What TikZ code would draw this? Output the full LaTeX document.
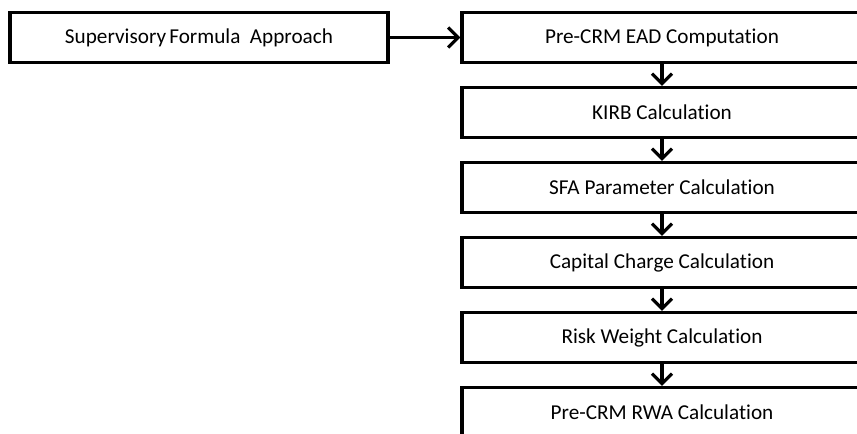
\documentclass[tikz,border=0pt]{standalone}
\usepackage{fontspec}
\setmainfont[Ligatures={NoCommon}]{Carlito}
\usetikzlibrary{arrows.meta}
\begin{document}
\begin{tikzpicture}[x=0.75pt,y=-0.75pt,
  box/.style={draw=black,line width=2.4pt,fill=white,minimum width=400*0.75pt,minimum height=50*0.75pt,inner sep=0pt,font=\fontsize{15.9}{19}\selectfont,text=black},
  flow/.style={line width=2.4pt,-{Straight Barb[length=7.5pt,width=15pt,line width=2.4pt]}}]
\useasboundingbox (0,0) rectangle (857,434);
\node[box,minimum width=378*0.75pt] (sfa) at (199,37.5) {Supervisory\hspace{0.15em}Formula\hspace{0.45em}Approach};
\node[box] (b1) at (662,37.5) {Pre-CRM EAD Computation};
\node[box] (b2) at (662,112.5) {KIRB Calculation};
\node[box] (b3) at (662,187.5) {SFA Parameter Calculation};
\node[box] (b4) at (662,262.5) {Capital Charge Calculation};
\node[box] (b5) at (662,337.5) {Risk Weight Calculation};
\node[box] (b6) at (662,412.5) {Pre-CRM RWA Calculation};
\draw[flow] (sfa) -- (b1);
\draw[flow] (b1) -- (b2);
\draw[flow] (b2) -- (b3);
\draw[flow] (b3) -- (b4);
\draw[flow] (b4) -- (b5);
\draw[flow] (b5) -- (b6);
\end{tikzpicture}
\end{document}
